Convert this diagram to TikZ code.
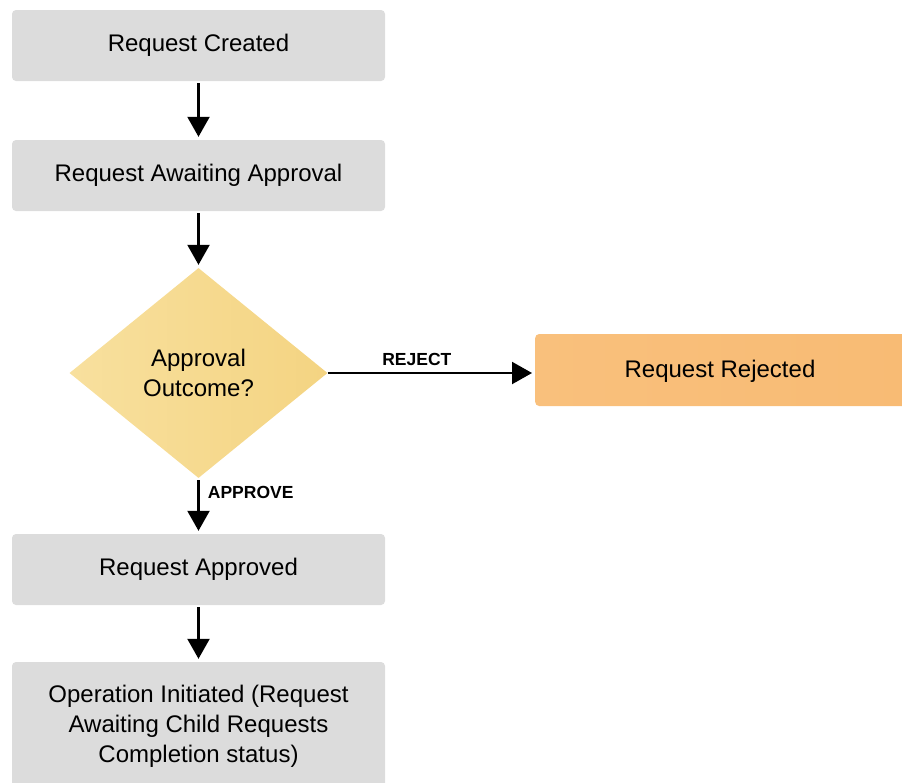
\documentclass[tikz,border=0pt]{standalone}
\usepackage{fontspec}
\setmainfont{Liberation Sans}
\usetikzlibrary{shapes.geometric,arrows.meta}
\definecolor{boxgray}{HTML}{DCDCDC}
\definecolor{diaL}{HTML}{F8E09E}
\definecolor{diaR}{HTML}{F4D482}
\definecolor{rejL}{HTML}{F9C07C}
\definecolor{rejR}{HTML}{F8BB74}
\begin{document}
\begin{tikzpicture}[x=1pt,y=-1pt,
  txt/.style={font=\fontsize{24}{30}\selectfont},
  graybox/.style={txt,fill=boxgray,draw=none,rounded corners=4pt,minimum width=373pt,align=center},
  conn/.style={line width=2.2pt,-{Triangle[width=22pt,length=20pt]},shorten >=3pt,shorten <=2pt},
  lbl/.style={font=\bfseries\fontsize{17.5}{20}\selectfont}]
\useasboundingbox (0,0) rectangle (902,782);
\node[graybox,minimum height=71pt] (created) at (198.5,45.5) {Request Created};
\node[graybox,minimum height=71pt] (await) at (198.5,175.5) {Request Awaiting Approval};
\node[txt,diamond,shape aspect=1.23,inner sep=0pt,minimum width=258pt,minimum height=210pt,
  left color=diaL,right color=diaR,draw=none,align=center] (dec) at (198.5,373) {Approval\\Outcome?};
\node[graybox,minimum height=71pt] (approved) at (198.5,569.5) {Request Approved};
\node[graybox,minimum height=130pt] (op) at (198.5,727) {};
\node[txt,align=center] (optext) at (198.5,726) {Operation Initiated (Request\\Awaiting Child Requests\\Completion status)};
\node[left color=rejL,right color=rejR,draw=none,rounded corners=4pt,minimum width=372pt,minimum height=72pt,anchor=west] (rej) at (535,370) {};
\node[txt] (rejtext) at (720,371) {Request Rejected};
\draw[conn] (created.south) -- (await.north);
\draw[conn] (await.south) -- (dec.north);
\draw[conn] (dec.south) -- (approved.north) node[lbl,pos=0.25,right=5pt] (approve) {APPROVE};
\draw[conn,shorten <=0pt] (dec.east) -- (rej.west |- dec.east) node[lbl,pos=0.43,above=3pt] (reject) {REJECT};
\draw[conn] (approved.south) -- (op.north);
\end{tikzpicture}
\end{document}
